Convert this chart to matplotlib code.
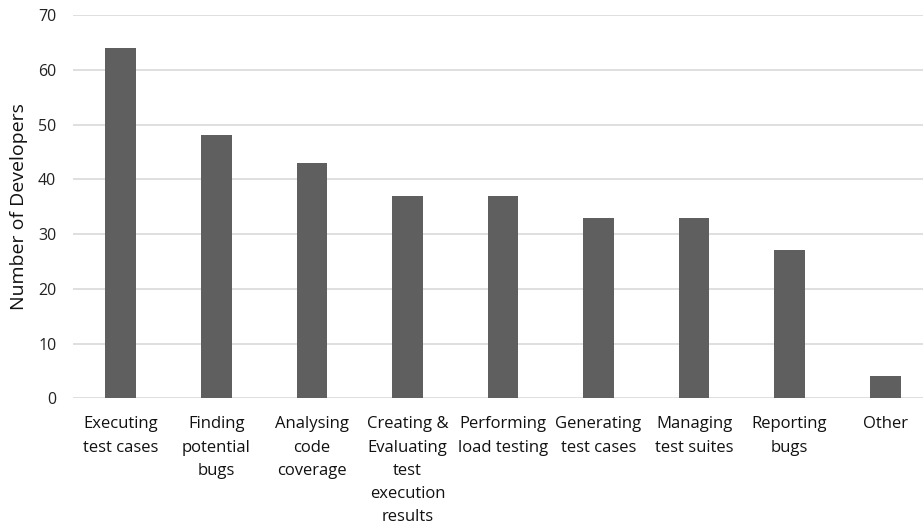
import matplotlib
matplotlib.use("Agg")
import matplotlib.pyplot as plt

categories = ["Executing\ntest cases", "Finding\npotential\nbugs", "Analysing\ncode\ncoverage",
              "Creating &\nEvaluating\ntest\nexecution\nresults", "Performing\nload testing",
              "Generating\ntest cases", "Managing\ntest suites", "Reporting\nbugs", "Other"]
values = [64, 48, 43, 37, 37, 33, 33, 27, 4]
yticks = [0, 10, 20, 30, 40, 50, 60, 70]

plt.rcParams['font.family'] = ['Open Sans', 'DejaVu Sans']

fig = plt.figure(figsize=(9.23, 5.26), dpi=100)
W, H = 923, 526
ax = fig.add_axes([73 / W, 1 - 398.3 / H, 850 / W, (398.3 - 15) / H])

x = list(range(len(categories)))
ax.bar(x, values, width=0.32, color="#5f5f5f", zorder=3)
ax.set_xlim(-0.5, 8.5 - 10 / 95.6)
ax.set_ylim(0, 70)
ax.set_yticks(yticks)
ax.set_yticklabels([str(v) for v in yticks], fontsize=11.5, color="#222222")
ax.set_xticks(x)
ax.set_xticklabels(categories, fontsize=12, color="#111111", linespacing=1.6, va="top")
ax.tick_params(axis="both", length=0)
ax.tick_params(axis="x", pad=13)
ax.tick_params(axis="y", pad=12)
ax.grid(axis="y", color="#d9d9d9", linewidth=1.2, zorder=0)
for s in ax.spines.values():
    s.set_visible(False)
ax.set_ylabel("Number of Developers", fontsize=14, color="#111111", labelpad=7)

fig.savefig("out.png", dpi=100)
